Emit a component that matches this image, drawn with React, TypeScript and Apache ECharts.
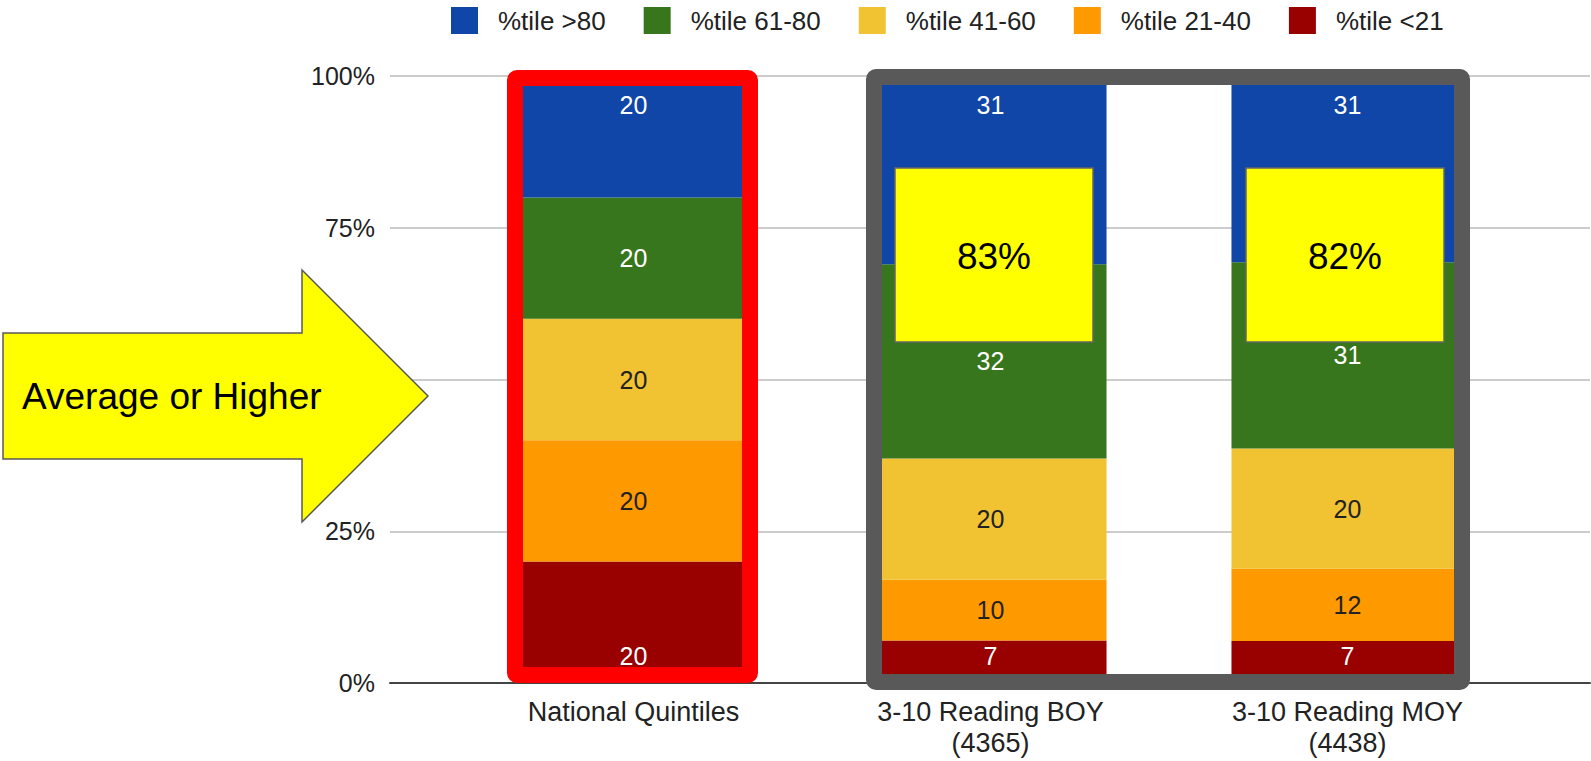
import React, { useEffect, useRef } from "react";
import * as echarts from "echarts";

const FONT = "Arial, 'Liberation Sans', sans-serif";

const categories = ["National Quintiles", "3-10 Reading BOY\n(4365)", "3-10 Reading MOY\n(4438)"];
const seriesNames = ["%tile <21", "%tile 21-40", "%tile 41-60", "%tile 61-80", "%tile >80"];
const below21 = [20, 7, 7];
const p21to40 = [20, 10, 12];
const p41to60 = [20, 20, 20];
const p61to80 = [20, 32, 31];
const above80 = [20, 31, 31];
const yTicks = [0, 25, 50, 75, 100];
const highlightLabels = ["83%", "82%"];
const arrowLabel = "Average or Higher";

const colors = ["#990000", "#ff9900", "#f1c232", "#38761d", "#0f46a8"];
const labelColors = ["#ffffff", "#222222", "#222222", "#ffffff", "#ffffff"];

export default function App() {
  const ref = useRef<HTMLDivElement>(null);

  useEffect(() => {
    if (!ref.current) return;
    const chart = echarts.init(ref.current, null, { renderer: "svg" });
    const raw = [below21, p21to40, p41to60, p61to80, above80];
    const totals = categories.map((_, i) => raw.reduce((s, arr) => s + arr[i], 0));

    const series = raw.map((arr, k) => {
      let position: any = "inside";
      let distance = 5;
      if (k === 0) { position = "insideBottom"; distance = 15; }
      if (k === 4) { position = "insideTop"; distance = 16; }
      return {
        name: seriesNames[k],
        type: "bar",
        stack: "total",
        xAxisIndex: 1,
        yAxisIndex: 1,
        barWidth: "65%",
        itemStyle: { color: colors[k] },
        label: {
          show: true,
          position,
          distance,
          fontSize: 25,
          fontFamily: FONT,
          color: labelColors[k],
          textBorderWidth: 0,
          formatter: (p: any) => String(arr[p.dataIndex]),
        },
        data: arr.map((v, i) => (v / totals[i]) * 100),
      };
    });

    const graphic: any[] = [
      {
        type: "polygon",
        z: 100,
        silent: true,
        shape: {
          points: [
            [3, 333], [302, 333], [302, 270], [428, 396], [302, 522], [302, 459], [3, 459],
          ],
        },
        style: { fill: "#ffff00", stroke: "#595959", lineWidth: 1.5 },
      },
      {
        type: "text",
        z: 101,
        silent: true,
        x: 22,
        y: 396,
        style: {
          text: arrowLabel,
          fill: "#000",
          font: `37px ${FONT}`,
          verticalAlign: "middle",
          align: "left",
        },
      },
      {
        type: "rect",
        z: 100,
        silent: true,
        shape: { x: 515, y: 78, width: 235, height: 597, r: 2 },
        style: { fill: "none", stroke: "#ff0000", lineWidth: 16 },
      },
      {
        type: "rect",
        z: 100,
        silent: true,
        shape: { x: 874, y: 77, width: 588, height: 605, r: 2 },
        style: { fill: "none", stroke: "#595959", lineWidth: 16 },
      },
    ];
    const boxXs = [895, 1246];
    highlightLabels.forEach((t, i) => {
      graphic.push({
        type: "rect",
        z: 100,
        silent: true,
        shape: { x: boxXs[i], y: 168, width: 198, height: 174 },
        style: { fill: "#ffff00", stroke: "#666666", lineWidth: 1.5 },
      });
      graphic.push({
        type: "text",
        z: 101,
        silent: true,
        x: boxXs[i] + 99,
        y: 256,
        style: {
          text: t,
          fill: "#000",
          font: `37px ${FONT}`,
          align: "center",
          verticalAlign: "middle",
        },
      });
    });

    chart.setOption({
      animation: false,
      textStyle: { fontFamily: FONT },
      legend: {
        left: 446,
        top: 2,
        itemWidth: 27,
        itemHeight: 27,
        itemGap: 38,
        icon: "rect",
        data: [...seriesNames].reverse(),
        textStyle: { fontSize: 26, color: "#222", fontFamily: FONT, padding: [0, 0, 0, 15] },
      },
      grid: [
        { left: 390, right: 1, top: 76, bottom: 78 },
        { left: 455, right: 65, top: 76, bottom: 78 },
      ],
      xAxis: [
        {
          gridIndex: 0,
          type: "value",
          min: 0,
          max: 1,
          axisLine: { show: true, lineStyle: { color: "#444", width: 2 } },
          axisTick: { show: false },
          axisLabel: { show: false },
          splitLine: { show: false },
        },
        {
          gridIndex: 1,
          type: "category",
          data: categories,
          axisLine: { show: false },
          axisTick: { show: false },
          axisLabel: { fontSize: 27, color: "#222", margin: 13, lineHeight: 31, fontFamily: FONT },
        },
      ],
      yAxis: [
        {
          gridIndex: 0,
          type: "value",
          min: yTicks[0],
          max: yTicks[yTicks.length - 1],
          interval: yTicks[1] - yTicks[0],
          axisLine: { show: false },
          axisTick: { show: false },
          axisLabel: { formatter: "{value}%", fontSize: 25, color: "#222", margin: 15, fontFamily: FONT },
          splitLine: { lineStyle: { color: "#cccccc", width: 2 } },
        },
        {
          gridIndex: 1,
          type: "value",
          min: 0,
          max: 100,
          show: false,
        },
      ],
      series,
      graphic,
    });
    return () => chart.dispose();
  }, []);

  return (
    <div
      ref={ref}
      style={{ position: "absolute", left: 0, top: 0, width: 1591, height: 761, background: "#fff" }}
    />
  );
}
